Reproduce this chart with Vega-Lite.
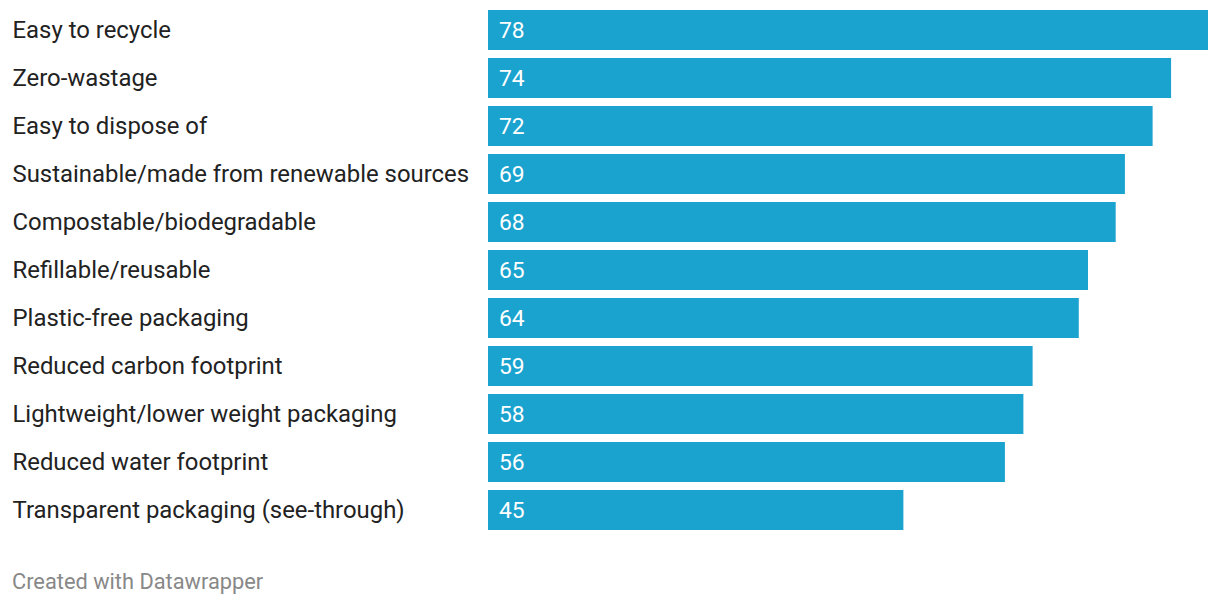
{
  "$schema": "https://vega.github.io/schema/vega-lite/v6.json",
  "autosize": "none",
  "width": 720,
  "height": 528,
  "padding": {"left": 488, "top": 6, "right": 12, "bottom": 72},
  "background": "white",
  "config": {"view": {"stroke": null}, "font": "Roboto"},
  "title": {
    "text": "Created with Datawrapper",
    "orient": "bottom",
    "anchor": "start",
    "frame": "group",
    "dx": -476,
    "offset": 38,
    "fontSize": 21.8,
    "fontWeight": "normal",
    "color": "#888888",
    "font": "Roboto"
  },
  "data": {
    "values": [
      {"label": "Easy to recycle", "value": 78},
      {"label": "Zero-wastage", "value": 74},
      {"label": "Easy to dispose of", "value": 72},
      {"label": "Sustainable/made from renewable sources", "value": 69},
      {"label": "Compostable/biodegradable", "value": 68},
      {"label": "Refillable/reusable", "value": 65},
      {"label": "Plastic-free packaging", "value": 64},
      {"label": "Reduced carbon footprint", "value": 59},
      {"label": "Lightweight/lower weight packaging", "value": 58},
      {"label": "Reduced water footprint", "value": 56},
      {"label": "Transparent packaging (see-through)", "value": 45}
    ]
  },
  "encoding": {
    "y": {
      "field": "label",
      "type": "nominal",
      "sort": null,
      "scale": {"paddingInner": 0.1667, "paddingOuter": 0.0833},
      "axis": {
        "title": null,
        "domain": false,
        "ticks": false,
        "labelAlign": "left",
        "labelPadding": 476,
        "labelOffset": 1,
        "labelFontSize": 23.9,
        "labelColor": "#222222",
        "labelFont": "Roboto",
        "labelLimit": 480
      }
    }
  },
  "layer": [
    {
      "mark": {"type": "bar", "color": "#1aa3cf"},
      "encoding": {
        "x": {"field": "value", "type": "quantitative", "scale": {"domain": [0, 78], "nice": false, "zero": true}, "axis": null}
      }
    },
    {
      "mark": {"type": "text", "align": "left", "baseline": "middle", "dx": 11, "dy": 1, "color": "white", "fontSize": 22.8, "font": "Roboto"},
      "encoding": {
        "x": {"datum": 0, "type": "quantitative"},
        "text": {"field": "value", "type": "quantitative"}
      }
    }
  ]
}
